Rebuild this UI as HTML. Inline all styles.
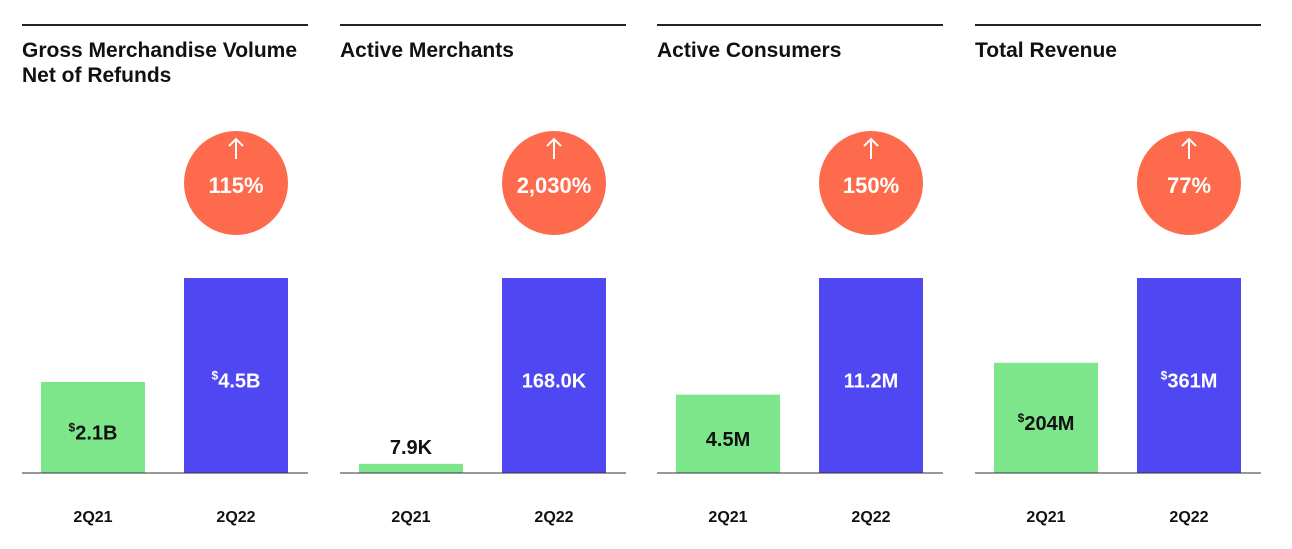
<!DOCTYPE html>
<html><head><meta charset="utf-8"><style>
body{margin:0;width:1292px;height:544px;background:#fff;font-family:"Liberation Sans",sans-serif;overflow:hidden}
svg text{font-family:"Liberation Sans",sans-serif;font-weight:bold}
</style></head><body>
<svg id="c" width="1292" height="544"></svg>
<script>
const titles=[["Gross Merchandise Volume","Net of Refunds"],["Active Merchants"],["Active Consumers"],["Total Revenue"]];
const categories=["2Q21","2Q22"];
const values2Q21=[2.1,7.9,4.5,204];
const values2Q22=[4.5,168.0,11.2,361];
const labels2Q21=["2.1B","7.9K","4.5M","204M"];
const labels2Q22=["4.5B","168.0K","11.2M","361M"];
const dollar=[true,false,false,true];
const growth=["115%","2,030%","150%","77%"];

const svg=document.getElementById('c');
const NS="http://www.w3.org/2000/svg";
function mk(t,a,txt){const e=document.createElementNS(NS,t);for(const k in a)e.setAttribute(k,a[k]);if(txt!=null)e.textContent=txt;svg.appendChild(e);return e;}
const panelX=[22,340,657,975],panelW=286,base=473,maxH=195;
for(let i=0;i<4;i++){
  const x0=panelX[i];
  const l=mk('line',{x1:x0,x2:x0+panelW,y1:25,y2:25,stroke:'#222','stroke-width':2});
  
  titles[i].forEach((t,j)=>{const e=mk('text',{x:x0,y:57+j*25,'font-size':21,fill:'#111'},t);
    });
  const maxV=Math.max(values2Q21[i],values2Q22[i]);
  const y=v=>base-v/maxV*maxH;
  const vals=[values2Q21[i],values2Q22[i]],labs=[labels2Q21[i],labels2Q22[i]];
  const cols=['#7de68a','#4f47f2'];
  for(let k=0;k<2;k++){
    const bx=x0+19+k*143,bw=104,top=y(vals[k]);
    const r=mk('rect',{x:bx,y:top,width:bw,height:base-top,fill:cols[k]});
    
    const h=base-top;const ly=h<40?top-10:top+h/2+12;
    const t=mk('text',{x:bx+bw/2,y:ly,'font-size':20,'text-anchor':'middle',fill:k==1?'#fff':'#111'});
    
    if(dollar[i]){const s=document.createElementNS(NS,'tspan');s.setAttribute('font-size',12);s.setAttribute('dy',-8);s.textContent='$';t.appendChild(s);
      const s2=document.createElementNS(NS,'tspan');s2.setAttribute('dy',8);s2.textContent=labs[k];t.appendChild(s2);}
    else t.textContent=labs[k];
    const c=mk('text',{x:bx+bw/2,y:522,'font-size':16,'text-anchor':'middle',fill:'#111'},categories[k]);
    
  }
  const bl=mk('line',{x1:x0,x2:x0+panelW,y1:base,y2:base,stroke:'#333','stroke-width':1});
  
  const cx=x0+19+143+52;
  const ci=mk('circle',{cx:cx,cy:183,r:52,fill:'#fe6b4c'});
  
  const ar=mk('path',{d:`M${cx} 159 V139 M${cx-7} 146 L${cx} 139 L${cx+7} 146`,stroke:'#fff','stroke-width':2,fill:'none'});
  
  const g=mk('text',{x:cx,y:193,'font-size':22,'text-anchor':'middle',fill:'#fff'},growth[i]);
  
}
</script>
</body></html>
